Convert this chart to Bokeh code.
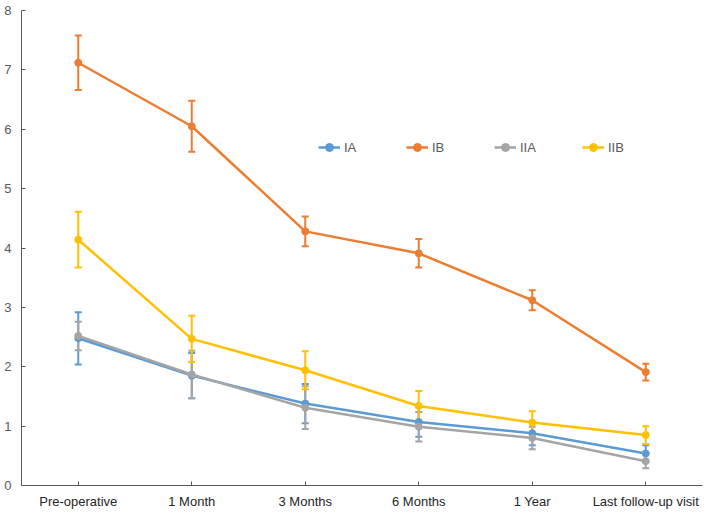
from bokeh.plotting import figure
from bokeh.models import ColumnDataSource, Whisker, TeeHead, Legend, LegendItem
from bokeh.embed import file_html
from bokeh.resources import INLINE

categories = ["Pre-operative", "1 Month", "3 Months", "6 Months", "1 Year", "Last follow-up visit"]

ia_mean = [2.48, 1.85, 1.38, 1.07, 0.88, 0.54]
ia_err = [0.44, 0.38, 0.33, 0.25, 0.20, 0.14]
ib_mean = [7.12, 6.05, 4.28, 3.91, 3.12, 1.91]
ib_err = [0.46, 0.43, 0.25, 0.24, 0.17, 0.14]
iia_mean = [2.52, 1.87, 1.31, 0.99, 0.80, 0.41]
iia_err = [0.24, 0.40, 0.36, 0.25, 0.19, 0.12]
iib_mean = [4.14, 2.47, 1.94, 1.34, 1.06, 0.85]
iib_err = [0.47, 0.39, 0.32, 0.25, 0.19, 0.15]

series = [
    ("IA", ia_mean, ia_err, "#5B9BD5"),
    ("IB", ib_mean, ib_err, "#ED7D31"),
    ("IIA", iia_mean, iia_err, "#A5A5A5"),
    ("IIB", iib_mean, iib_err, "#FFC000"),
]

p = figure(x_range=categories, y_range=(0, 8), width=709, height=513,
           output_backend="svg", toolbar_location=None,
           min_border_left=21, min_border_right=7, min_border_top=10, min_border_bottom=28)
p.xgrid.visible = False
p.ygrid.visible = False
p.outline_line_color = None

items = []
for name, m, e, c in series:
    src = ColumnDataSource(dict(x=categories, y=m,
                                upper=[a + b for a, b in zip(m, e)],
                                lower=[a - b for a, b in zip(m, e)]))
    w = Whisker(source=src, base="x", upper="upper", lower="lower",
                line_color=c, line_width=2,
                upper_head=TeeHead(size=7, line_color=c, line_width=2),
                lower_head=TeeHead(size=7, line_color=c, line_width=2))
    p.add_layout(w)
    r1 = p.line("x", "y", source=src, line_color=c, line_width=2.5)
    r2 = p.scatter("x", "y", source=src, size=7, fill_color=c, line_color=c)
    items.append(LegendItem(label=name, renderers=[r1, r2]))

legend = Legend(items=items, orientation="horizontal", location=(287, 318),
                glyph_width=22, label_standoff=4, spacing=42,
                label_text_font="Liberation Sans", label_text_font_size="13px",
                label_text_color="#595959",
                border_line_alpha=0, background_fill_alpha=0)
p.add_layout(legend)

for ax in (p.xaxis[0], p.yaxis[0]):
    ax.axis_line_color = "#595959"
    ax.axis_line_width = 1
    ax.major_tick_line_color = "#595959"
    ax.minor_tick_line_color = None
    ax.major_tick_out = 0
    ax.major_tick_in = 4
    ax.major_label_text_font = "Liberation Sans"
    ax.major_label_text_font_size = "13px"

p.yaxis.major_label_text_color = "#595959"
p.xaxis.major_label_text_color = "#262626"
p.yaxis.major_label_standoff = 6
p.xaxis.major_label_standoff = 8

open("out.html", "w").write(file_html(p, INLINE))
